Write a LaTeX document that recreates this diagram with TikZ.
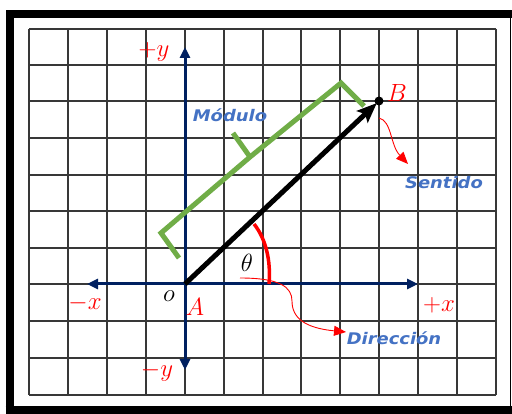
\documentclass[tikz,border=0pt]{standalone}
\usepackage{fontspec}
\newfontfamily\lblfont[FakeStretch=1.12]{DejaVu Sans}
\usetikzlibrary{arrows.meta}
\definecolor{navy}{HTML}{002060}
\definecolor{lblue}{HTML}{4472C4}
\definecolor{lgreen}{HTML}{70AD47}
\begin{document}
\begin{tikzpicture}[x=1pt,y=-1pt,
  gridline/.style={line width=1.6pt, draw=black!78},
  axis/.style={draw=navy, line width=3pt, -{Triangle[length=11pt,width=10pt]}},
  vec/.style={line width=5pt, -{Stealth[length=20pt,width=16pt,inset=4pt]}, shorten >=3pt},
  bracket/.style={draw=lgreen, line width=5pt, line join=miter},
  anglearc/.style={draw=red, line width=3.5pt},
  pointer/.style={draw=red, line width=0.9pt, -{Triangle[length=12pt,width=10pt]}},
  mlabel/.style={text=red, inner sep=0pt, font=\fontsize{24}{24}\selectfont},
  wlabel/.style={text=lblue, inner sep=0pt, font=\lblfont\bfseries\itshape\fontsize{16}{16}\selectfont}]
\useasboundingbox (0,0) rectangle (512,414);
\clip (0,0) rectangle (512,414);
\fill[white] (0,0) rectangle (512,414);
% outer frame
\draw[line width=8pt, line cap=rect] (9.5,410.5) -- (9.5,14) -- (512,14);
\draw[line width=8pt] (5.5,410.5) -- (512,410.5);
\draw[line width=1pt] (510.5,10) -- (510.5,414);
% grid
\foreach \gx in {29,68,107,146,185,224,263,301,340,379,418,457,496}
  \draw[gridline] (\gx,29) -- (\gx,395);
\foreach \gy in {29,65,101,138,175,211,248,284,321,358,395}
  \draw[gridline] (29,\gy) -- (496,\gy);
% key points
\coordinate (O) at (185,284);
\coordinate (B) at (379,101);
\coordinate (xp) at (418,284);
\coordinate (xm) at (87,284);
\coordinate (yp) at (185,47);
\coordinate (ym) at (185,370);
% axes
\draw[axis] (O) -- (xp);
\draw[axis] (O) -- (xm);
\draw[axis] (O) -- (yp);
\draw[axis] (O) -- (ym);
% green bracket
\draw[bracket] (179,258) -- (161,233) -- (250,157) -- (341,83) -- (364,106);
\draw[bracket] (250,157) -- (233,133);
% angle arc
\draw[anglearc] (269,284) .. controls (271,261) and (266,239) .. (254,224);
% vector
\draw[vec] (O) -- (B);
\node[circle, fill=black, inner sep=0pt, minimum size=9pt] (Bdot) at (B) {};
% labels
\node[mlabel] (lyp) at (154,52) {$+y$};
\node[mlabel] (lym) at (157,372) {$-y$};
\node[mlabel] (lxm) at (85,303) {$-x$};
\node[mlabel] (lxp) at (439,305) {$+x$};
\node[mlabel] (lA) at (195,307) {$A$};
\node[mlabel] (lB) at (397,93) {$B$};
\node[inner sep=0pt, font=\fontsize{23}{23}\selectfont] (lo) at (169,296) {$o$};
\node[inner sep=0pt, font=\fontsize{28}{28}\selectfont] (th) at (247,263) {$\theta$};
\node[wlabel] (mod) at (230,115) {Módulo};
\node[wlabel] (sent) at (444,183) {Sentido};
\node[wlabel] (dir) at (394,338) {Dirección};
% red pointers
\coordinate (s1) at (379,118);
\coordinate (s2) at (408,164);
\draw[pointer] (s1) .. controls (392,121) and (390,145) .. (s2);
\coordinate (d1) at (240,278);
\coordinate (d2) at (292,301);
\coordinate (d3) at (346,332);
\draw[pointer] (d1) .. controls (280,278) and (292,287) .. (d2) .. controls (292,318) and (305,328) .. (d3);
\end{tikzpicture}
\end{document}
